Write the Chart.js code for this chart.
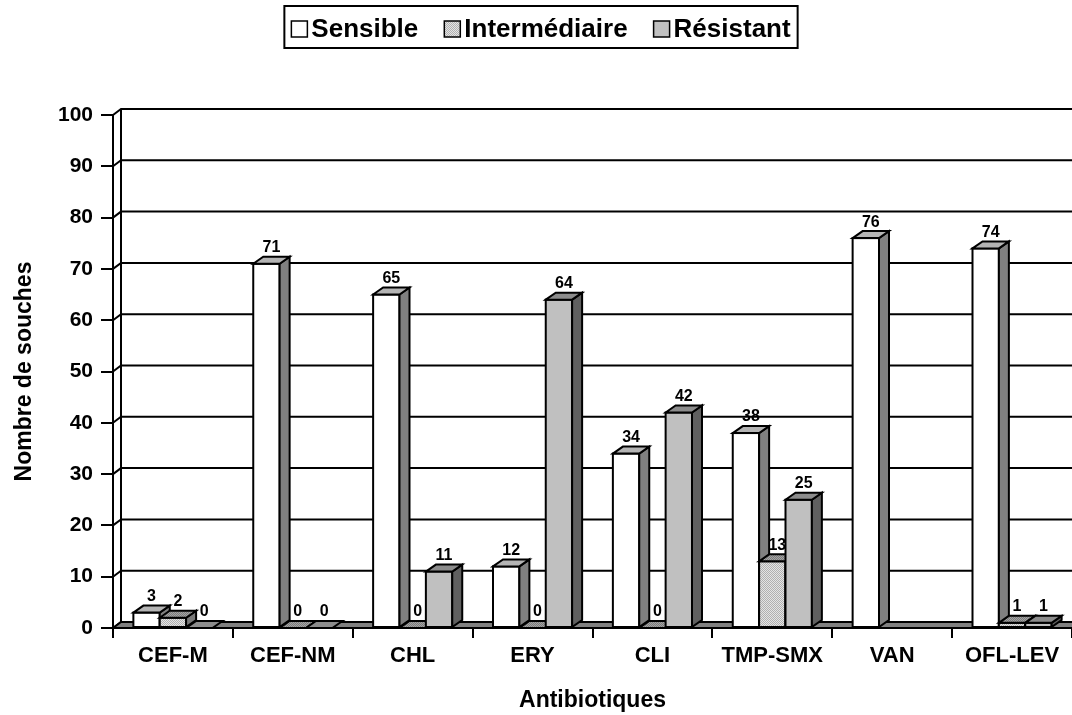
<!DOCTYPE html>
<html>
<head>
<meta charset="utf-8">
<script src="https://cdn.jsdelivr.net/npm/chart.js@4.4.0/dist/chart.umd.min.js"></script>
<style>
  html, body { margin: 0; padding: 0; background: #fff; }
</style>
</head>
<body>
<canvas id="chart" width="1072" height="715"></canvas>
<script>
const categories = ['CEF-M', 'CEF-NM', 'CHL', 'ERY', 'CLI', 'TMP-SMX', 'VAN', 'OFL-LEV'];
const sensible = [3, 71, 65, 12, 34, 38, 76, 74];
const intermediaire = [2, 0, 0, 0, 0, 13, null, 1];
const resistant = [0, 0, 11, 64, 42, 25, null, 1];
const yTicks = [0, 10, 20, 30, 40, 50, 60, 70, 80, 90, 100];

const FONT = 'Liberation Sans';
const canvas = document.getElementById('chart');
const ctx = canvas.getContext('2d');

// depth of the bars and of the back wall
const bx = 10, by = 7, wx = 8, wy = 6;

function stipple(a, b) {
    const c = document.createElement('canvas');
    c.width = 2; c.height = 2;
    const g = c.getContext('2d');
    g.fillStyle = a; g.fillRect(0, 0, 2, 2);
    g.fillStyle = b; g.fillRect(0, 0, 1, 1); g.fillRect(1, 1, 1, 1);
    return ctx.createPattern(c, 'repeat');
}

const faces = [
    { front: '#ffffff', top: '#b4b4b4', side: '#808080' },
    { front: stipple('#e4e4e4', '#b0b0b0'), top: stipple('#a4a4a4', '#7c7c7c'), side: '#7a7a7a' },
    { front: '#c0c0c0', top: '#8c8c8c', side: '#606060' }
];

function poly(pts, fill) {
    ctx.beginPath();
    ctx.moveTo(pts[0][0], pts[0][1]);
    for (let k = 1; k < pts.length; k++) ctx.lineTo(pts[k][0], pts[k][1]);
    ctx.closePath();
    ctx.fillStyle = fill;
    ctx.fill();
    ctx.stroke();
}

const wall3d = {
    id: 'wall3d',
    beforeDatasetsDraw(chart) {
        const a = chart.chartArea;
        const y = chart.scales.y;
        const right = chart.width;
        ctx.save();
        ctx.strokeStyle = '#000';
        ctx.lineWidth = 2;
        ctx.beginPath();
        ctx.moveTo(a.left + wx, y.getPixelForValue(100) - wy);
        ctx.lineTo(a.left + wx, a.bottom - wy);
        ctx.stroke();
        yTicks.forEach(v => {
            const py = y.getPixelForValue(v);
            ctx.beginPath();
            ctx.moveTo(a.left, py);
            ctx.lineTo(a.left + wx, py - wy);
            ctx.lineTo(right, py - wy);
            ctx.stroke();
        });
        // floor
        poly([[a.left, a.bottom], [a.left + wx, a.bottom - wy], [right + wx, a.bottom - wy], [right + wx, a.bottom]], '#808080');
        ctx.restore();
    },
    afterDatasetsDraw(chart) {
        ctx.save();
        ctx.strokeStyle = '#000';
        ctx.lineWidth = 2;
        ctx.lineJoin = 'miter';
        const labels = [];
        for (let i = 0; i < categories.length; i++) {
            chart.data.datasets.forEach((ds, d) => {
                const val = ds.data[i];
                if (val === null) return;
                const el = chart.getDatasetMeta(d).data[i];
                const x0 = el.x - el.width / 2, x1 = el.x + el.width / 2;
                const top = el.y, base = el.base;
                const f = faces[d];
                if (base - top > 0.5) {
                    ctx.fillStyle = f.front;
                    ctx.fillRect(x0, top, x1 - x0, base - top);
                    ctx.strokeRect(x0, top, x1 - x0, base - top);
                    poly([[x1, top], [x1 + bx, top - by], [x1 + bx, base - by], [x1, base]], f.side);
                }
                poly([[x0, top], [x0 + bx, top - by], [x1 + bx, top - by], [x1, top]], f.top);
                labels.push([String(val), el.x + bx / 2, top - by - 1]);
            });
        }
        ctx.fillStyle = '#000';
        ctx.font = 'bold 16px "' + FONT + '"';
        ctx.textAlign = 'center';
        ctx.textBaseline = 'bottom';
        labels.forEach(l => ctx.fillText(l[0], l[1], l[2]));
        ctx.restore();
    },
    afterDraw(chart) {
        // boxed legend
        ctx.save();
        ctx.font = 'bold 26px "' + FONT + '"';
        const box = 17, gapText = 3, gapItem = 26;
        const ds = chart.data.datasets;
        const widths = ds.map(s => ctx.measureText(s.label).width);
        let total = widths.reduce((s, w) => s + box + gapText + w, 0) + gapItem * (ds.length - 1);
        let x = 541 - total / 2;
        ctx.strokeStyle = '#000';
        ctx.lineWidth = 2;
        ctx.strokeRect(x - 7, 6, total + 14, 42);
        ctx.textBaseline = 'alphabetic';
        ctx.textAlign = 'left';
        ds.forEach((s, d) => {
            ctx.fillStyle = faces[d].front;
            ctx.fillRect(x, 21, box - 1, box - 1);
            ctx.lineWidth = 1.5;
            ctx.strokeRect(x, 21, box - 1, box - 1);
            ctx.fillStyle = '#000';
            ctx.fillText(s.label, x + box + gapText, 37);
            x += box + gapText + widths[d] + gapItem;
        });
        ctx.restore();
    }
};

const tickFont = { family: FONT, weight: 'bold', size: 21 };
const titleFont = { family: FONT, weight: 'bold', size: 23 };

new Chart(ctx, {
    type: 'bar',
    data: {
        labels: categories,
        datasets: [
            { label: 'Sensible', data: sensible, backgroundColor: faces[0].front },
            { label: 'Intermédiaire', data: intermediaire, backgroundColor: faces[1].front },
            { label: 'Résistant', data: resistant, backgroundColor: faces[2].front }
        ]
    },
    options: {
        responsive: false,
        animation: false,
        events: [],
        categoryPercentage: 0.66,
        barPercentage: 1.0,
        layout: { padding: { top: 115, left: 0, right: 0, bottom: 0 } },
        plugins: {
            legend: { display: false },
            tooltip: { enabled: false }
        },
        scales: {
            x: {
                ticks: { color: '#000', font: { family: FONT, weight: 'bold', size: 22 }, padding: 5, maxRotation: 0, autoSkip: false },
                grid: { drawOnChartArea: false, drawTicks: true, tickLength: 10, color: '#000', lineWidth: 2, offset: true },
                border: { display: true, color: '#000', width: 2 },
                title: { display: true, text: 'Antibiotiques', color: '#000', font: titleFont, padding: { top: 0, bottom: 1 } },
                afterFit(s) { s.height = 87; }
            },
            y: {
                min: 0,
                max: 100,
                afterBuildTicks(s) { s.ticks = yTicks.map(v => ({ value: v })); },
                ticks: { color: '#000', font: tickFont, padding: 8 },
                grid: { drawOnChartArea: false, drawTicks: true, tickLength: 12, color: '#000', lineWidth: 2 },
                border: { display: true, color: '#000', width: 2 },
                title: { display: true, text: 'Nombre de souches', color: '#000', font: titleFont, padding: { top: 11, bottom: 0 } },
                afterFit(s) { s.width = 113; }
            }
        }
    },
    plugins: [wall3d]
});
</script>
</body>
</html>
